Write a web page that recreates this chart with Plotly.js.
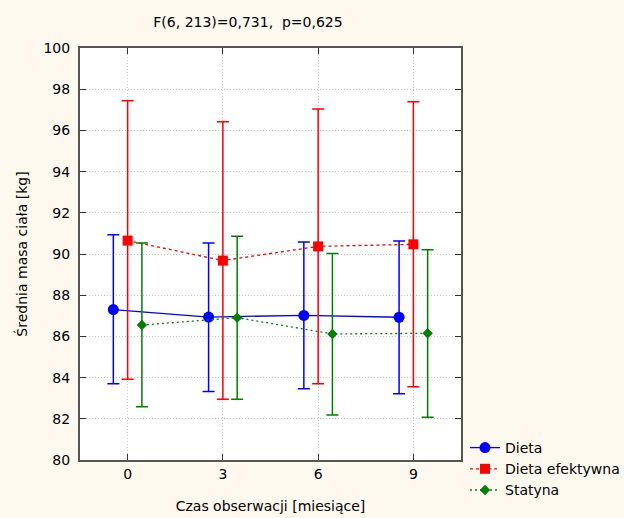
<!DOCTYPE html>
<html>
<head>
<meta charset="utf-8">
<script src="https://cdn.plot.ly/plotly-3.0.1.min.js"></script>
<style>html,body{margin:0;padding:0;background:#fdf9ee;}</style>
</head>
<body>
<div id="chart" style="width:624px;height:518px;"></div>
<script>
const months = [0, 3, 6, 9];
const seriesNames = ["Dieta", "Dieta efektywna", "Statyna"];

const dietaMean  = [87.30, 86.94, 87.02, 86.93];
const dietaUpper = [90.94, 90.53, 90.58, 90.63];
const dietaLower = [83.70, 83.32, 83.46, 83.22];

const efektMean  = [90.65, 89.68, 90.37, 90.47];
const efektUpper = [97.44, 96.42, 97.04, 97.39];
const efektLower = [83.92, 82.95, 83.70, 83.56];

const statMean  = [86.55, 86.91, 86.12, 86.15];
const statUpper = [90.53, 90.86, 90.03, 90.21];
const statLower = [82.59, 82.95, 82.18, 82.07];

const offsets = [-0.45, 0, 0.45];
const colors = ["#0000ff", "#ff0000", "#008000"];
const symbols = ["circle", "square", "diamond"];
const sizes = [11, 10, 8];
const dashes = ["solid", "3px,3px", "2px,3px"];

const means = [dietaMean, efektMean, statMean];
const uppers = [dietaUpper, efektUpper, statUpper];
const lowers = [dietaLower, efektLower, statLower];

const traces = seriesNames.map((name, i) => ({
  type: "scatter",
  mode: "lines+markers",
  name: name,
  x: months.map(m => m + offsets[i]),
  y: means[i],
  line: {color: colors[i], width: 1.3, dash: dashes[i]},
  marker: {color: colors[i], symbol: symbols[i], size: sizes[i]},
  error_y: {
    type: "data", symmetric: false,
    array: uppers[i].map((u, k) => u - means[i][k]),
    arrayminus: lowers[i].map((l, k) => means[i][k] - l),
    color: colors[i], thickness: 1.5, width: 6
  }
}));

const layout = {
  width: 624, height: 518,
  paper_bgcolor: "#fdf9ee",
  plot_bgcolor: "#ffffff",
  margin: {l: 80, r: 163, t: 48, b: 58},
  font: {family: "DejaVu Sans, sans-serif", size: 14, color: "#000"},
  title: {text: "F(6, 213)=0,731,  p=0,625", x: 248/624, xref: "container", xanchor: "center", y: 1 - 22/518, yref: "container", yanchor: "middle", font: {size: 14}},
  xaxis: {
    range: [-1.5, 10.5], tickvals: months, ticktext: months.map(String),
    ticks: "inside", ticklen: 6, tickcolor: "#333", mirror: "ticks",
    showline: true, linecolor: "#555", linewidth: 2,
    showgrid: true, gridcolor: "#c8c8c8", griddash: "1px,2px", gridwidth: 1,
    zeroline: false, automargin: false,
    title: {text: "Czas obserwacji [miesiące]", standoff: 20, font: {size: 14}}
  },
  yaxis: {
    range: [80, 100], dtick: 2,
    ticks: "inside", ticklen: 6, tickcolor: "#333", mirror: "ticks",
    showline: true, linecolor: "#555", linewidth: 2,
    showgrid: true, gridcolor: "#c8c8c8", griddash: "1px,2px", gridwidth: 1,
    zeroline: false, automargin: false, ticklabelstandoff: 5,
    title: {text: "Średnia masa ciała [kg]", standoff: 13, font: {size: 14}}
  },
  legend: {
    xref: "container", yref: "container",
    x: 465/624, y: (518 - 432)/518, xanchor: "left", yanchor: "top",
    bgcolor: "rgba(0,0,0,0)", tracegroupgap: 0,
    font: {size: 14}, itemwidth: 30
  },
  showlegend: true
};

Plotly.newPlot("chart", traces, layout, {displayModeBar: false, staticPlot: true});
</script>
</body>
</html>
